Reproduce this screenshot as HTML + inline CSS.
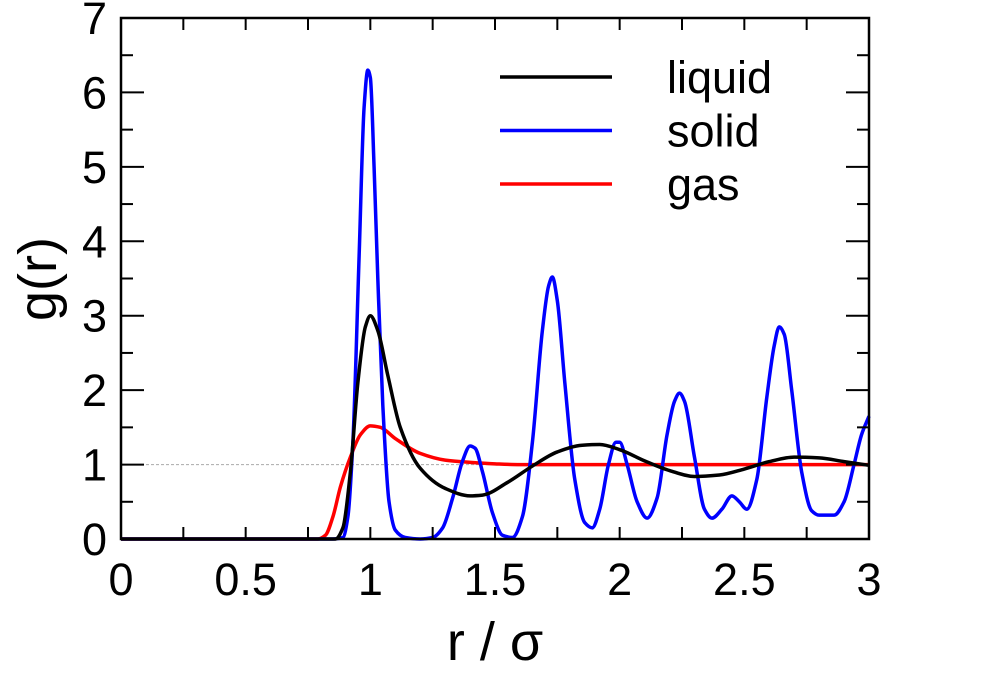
<!DOCTYPE html>
<html><head><meta charset="utf-8"><style>
body{margin:0;background:#fff}
svg text{font-family:"Liberation Sans",sans-serif;fill:#000}
</style></head><body>
<svg id="chart" width="1000" height="677" xmlns="http://www.w3.org/2000/svg">
<g id="plot"></g>
</svg>
<script>
const xTicks=[0,0.5,1,1.5,2,2.5,3];
const xTickLabels=["0","0.5","1","1.5","2","2.5","3"];
const yTicks=[0,1,2,3,4,5,6,7];
const yTickLabels=["0","1","2","3","4","5","6","7"];
const solidR=[0,0.85,0.89,0.91,0.93,0.955,0.975,0.99,1.0,1.015,1.03,1.05,1.075,1.1,1.14,1.2,1.25,1.29,1.33,1.37,1.4,1.42,1.45,1.49,1.53,1.57,1.61,1.65,1.69,1.715,1.73,1.75,1.78,1.82,1.86,1.89,1.92,1.955,1.985,2.0,2.03,2.07,2.11,2.15,2.19,2.22,2.24,2.26,2.3,2.34,2.37,2.41,2.45,2.48,2.51,2.55,2.59,2.62,2.64,2.66,2.69,2.73,2.77,2.8,2.86,2.9,2.94,2.97,3.0];
const solidG=[0,0,0.02,0.3,1.3,3.8,5.8,6.3,6.2,5.0,3.5,1.8,0.5,0.12,0.02,0,0.02,0.15,0.55,1.05,1.25,1.22,0.9,0.35,0.05,0.02,0.3,1.3,2.8,3.4,3.52,3.2,2.1,0.8,0.22,0.15,0.4,1.0,1.3,1.3,1.0,0.5,0.28,0.55,1.4,1.85,1.96,1.85,1.1,0.4,0.28,0.4,0.58,0.5,0.4,0.8,1.9,2.6,2.85,2.75,2.0,0.9,0.38,0.32,0.32,0.5,1.0,1.4,1.65];
const liquidR=[0,0.86,0.89,0.92,0.95,0.98,1.0,1.03,1.07,1.12,1.2,1.3,1.4,1.45,1.55,1.65,1.75,1.85,1.92,2.0,2.1,2.2,2.3,2.4,2.5,2.6,2.7,2.8,2.9,3.0];
const liquidG=[0,0,0.15,0.9,2.1,2.85,3.0,2.8,2.2,1.5,0.95,0.68,0.58,0.59,0.76,0.98,1.17,1.26,1.27,1.2,1.05,0.92,0.84,0.86,0.94,1.04,1.1,1.09,1.04,0.99];
const gasR=[0,0.79,0.82,0.85,0.88,0.92,0.96,1.0,1.04,1.1,1.2,1.3,1.4,1.5,1.6,2.0,2.5,3.0];
const gasG=[0,0,0.05,0.3,0.7,1.1,1.4,1.52,1.5,1.35,1.15,1.06,1.03,1.01,1.0,1.0,1.0,1.0];

const X0=121,X1=869,Y0=539,Y1=18;
const sx=r=>X0+(r/3)*(X1-X0);
const sy=g=>Y0-(g/7)*(Y0-Y1);
const NS="http://www.w3.org/2000/svg";
const plot=document.getElementById('plot');
function mk(t,a,p){const e=document.createElementNS(NS,t);for(const k in a)e.setAttribute(k,a[k]);(p||plot).appendChild(e);return e;}

const ref=mk('line',{x1:X0,x2:X1,y1:sy(1),y2:sy(1),stroke:'#aaa','stroke-width':1,'stroke-dasharray':'3,2'});



// monotone cubic (Fritsch-Carlson) path
function path(rs,gs){
  const n=rs.length,xs=rs.map(sx),ys=gs.map(sy);
  const d=[],m=new Array(n);
  for(let i=0;i<n-1;i++)d.push((ys[i+1]-ys[i])/(xs[i+1]-xs[i]));
  m[0]=d[0];m[n-1]=d[n-2];
  for(let i=1;i<n-1;i++){
    if(d[i-1]*d[i]<=0)m[i]=0;
    else{const h0=xs[i]-xs[i-1],h1=xs[i+1]-xs[i];m[i]=3*(h0+h1)/((2*h1+h0)/d[i-1]+(h1+2*h0)/d[i]);}
  }
  let s=`M${xs[0]},${ys[0]}`;
  for(let i=0;i<n-1;i++){
    const h=(xs[i+1]-xs[i])/3;
    s+=`C${xs[i]+h},${ys[i]+m[i]*h} ${xs[i+1]-h},${ys[i+1]-m[i+1]*h} ${xs[i+1]},${ys[i+1]}`;
  }
  return s;
}
const gasL=mk('path',{d:path(gasR,gasG),fill:'none',stroke:'#f00','stroke-width':3.5});


const solL=mk('path',{d:path(solidR,solidG),fill:'none',stroke:'#00f','stroke-width':3.5});


const liqL=mk('path',{d:path(liquidR,liquidG),fill:'none',stroke:'#000','stroke-width':3.5});



const fr=mk('rect',{x:X0,y:Y1,width:X1-X0,height:Y0-Y1,fill:'none',stroke:'#000','stroke-width':2.5});



for(let i=0;i<=12;i++){
  const x=sx(i*0.25);
  const t1=mk('line',{x1:x,x2:x,y1:Y0,y2:Y0-12,stroke:'#000','stroke-width':2});
  
  
  const t2=mk('line',{x1:x,x2:x,y1:Y1,y2:Y1+12,stroke:'#000','stroke-width':2});
  
  
}
xTicks.forEach((v,i)=>{
  const t=mk('text',{x:sx(v),y:595,'font-size':45,'text-anchor':'middle'});
  t.textContent=xTickLabels[i];
  
  
});
for(let i=0;i<=14;i++){
  const y=sy(i*0.5),len=i%2===0?23:12;
  const t1=mk('line',{x1:X0,x2:X0+len,y1:y,y2:y,stroke:'#000','stroke-width':2});
  
  
  const t2=mk('line',{x1:X1,x2:X1-len,y1:y,y2:y,stroke:'#000','stroke-width':2});
  
  
}
yTicks.forEach((v,i)=>{
  const t=mk('text',{x:107,y:sy(v)+16,'font-size':45,'text-anchor':'end'});
  t.textContent=yTickLabels[i];
  
  
});
const xl=mk('text',{x:495,y:660,'font-size':54,'text-anchor':'middle'});
xl.textContent='r / σ';


const yl=mk('text',{x:0,y:0,'font-size':54,'text-anchor':'middle',transform:'translate(56,279) rotate(-90)'});
yl.textContent='g(r)';



const legNames=['liquid','solid','gas'];
const legColors=['#000','#00f','#f00'];
legNames.forEach((n,i)=>{
  const y=77+i*53.5;
  const l=mk('line',{x1:500,x2:612,y1:y,y2:y,stroke:legColors[i],'stroke-width':3.5});
  
  
  const t=mk('text',{x:667,y:y+16,'font-size':45});
  t.textContent=n;
  
  
});
</script>
</body></html>
